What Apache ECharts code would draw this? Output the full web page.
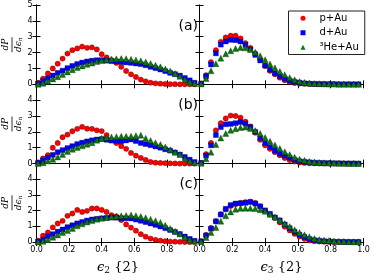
<!DOCTYPE html>
<html><head><meta charset="utf-8">
<script src="https://cdn.jsdelivr.net/npm/echarts@6/dist/echarts.min.js"></script>
<style>html,body{margin:0;padding:0;background:#fff}#c{width:374px;height:276px}</style>
</head><body><div id="c"></div>
<script>
// bin centres (x values) shared by all panels
const xBins = [0.01,0.04,0.07,0.10,0.13,0.16,0.19,0.22,0.25,0.28,0.31,0.34,0.37,0.40,0.43,0.46,0.49,0.52,0.55,0.58,0.61,0.64,0.67,0.70,0.73,0.76,0.79,0.82,0.85,0.88,0.91,0.94,0.97];

const seriesNames = ['p+Au', 'd+Au', '\u00b3He+Au'];
const panelLabels = ['(a)', '(b)', '(c)'];
const yTicks = [0, 1, 2, 3, 4, 5];
const xTicks = [0.0, 0.2, 0.4, 0.6, 0.8, 1.0];

// row (a)
const pAu_e2_a = [0.1,0.36,0.68,1.0,1.3,1.62,1.94,2.15,2.26,2.38,2.3,2.33,2.2,1.9,1.7,1.52,1.35,1.1,0.84,0.63,0.46,0.3,0.19,0.1,0.06,0.04,0.02,0.01,0.01,0,0,0,0];
const dAu_e2_a = [0.05,0.2,0.38,0.55,0.72,0.86,1.02,1.16,1.28,1.37,1.44,1.49,1.52,1.52,1.49,1.46,1.44,1.41,1.38,1.35,1.31,1.27,1.2,1.1,1.02,0.93,0.83,0.72,0.64,0.55,0.4,0.25,0.1];
const heAu_e2_a = [0,0.06,0.2,0.34,0.48,0.62,0.78,0.92,1.06,1.16,1.26,1.34,1.43,1.5,1.55,1.59,1.61,1.62,1.61,1.58,1.54,1.48,1.4,1.31,1.2,1.1,0.97,0.84,0.68,0.5,0.3,0.15,0.05];
const pAu_e3_a = [0.05,0.57,1.4,2.15,2.68,2.95,3.06,3.06,2.89,2.6,2.3,1.95,1.55,1.15,0.85,0.63,0.42,0.25,0.15,0.08,0.05,0.03,0.02,0.01,0.01,0,0,0,0,0,0,0,0];
const dAu_e3_a = [0.04,0.5,1.25,1.95,2.5,2.7,2.8,2.78,2.7,2.48,2.2,1.85,1.5,1.18,0.92,0.7,0.52,0.35,0.24,0.15,0.1,0.06,0.04,0.03,0.02,0.02,0.01,0.01,0,0,0,0,0];
const heAu_e3_a = [0.02,0.36,0.85,1.3,1.65,1.92,2.12,2.25,2.32,2.3,2.2,2.02,1.8,1.55,1.28,1.04,0.8,0.6,0.42,0.28,0.18,0.12,0.08,0.05,0.04,0.03,0.02,0.02,0.01,0.01,0.01,0,0];
// row (b)
const pAu_e2_b = [0.08,0.32,0.53,1.0,1.3,1.66,1.83,2.04,2.19,2.32,2.2,2.19,2.1,2.05,1.8,1.5,1.3,1.1,0.93,0.67,0.5,0.36,0.23,0.1,0.06,0.04,0.03,0.02,0.01,0,0,0,0];
const dAu_e2_b = [0.05,0.2,0.38,0.55,0.72,0.85,0.98,1.1,1.23,1.32,1.4,1.47,1.52,1.55,1.5,1.45,1.43,1.41,1.46,1.52,1.42,1.3,1.23,1.16,1.08,1.0,0.9,0.82,0.7,0.57,0.42,0.25,0.1];
const heAu_e2_b = [0,0.06,0.16,0.27,0.42,0.58,0.76,0.9,1.02,1.12,1.22,1.32,1.48,1.6,1.64,1.67,1.7,1.73,1.72,1.73,1.76,1.79,1.6,1.45,1.32,1.2,1.05,0.88,0.72,0.57,0.3,0.15,0.06];
const pAu_e3_b = [0.05,0.6,1.3,2.1,2.55,2.85,3.03,3.0,2.9,2.65,2.35,1.95,1.5,1.15,0.93,0.72,0.52,0.35,0.22,0.13,0.07,0.04,0.02,0.01,0,0,0,0,0,0,0,0,0];
const dAu_e3_b = [0.04,0.5,1.15,1.8,2.3,2.48,2.5,2.55,2.62,2.52,2.3,2.0,1.62,1.3,1.05,0.82,0.62,0.5,0.37,0.23,0.15,0.11,0.08,0.06,0.05,0.04,0.03,0.02,0.02,0.01,0.01,0.01,0];
const heAu_e3_b = [0.02,0.3,0.72,1.2,1.62,1.9,2.1,2.2,2.28,2.3,2.22,2.08,1.9,1.65,1.41,1.18,0.95,0.75,0.57,0.4,0.28,0.21,0.14,0.1,0.07,0.05,0.04,0.03,0.02,0.02,0.01,0.01,0];
// row (c)
const pAu_e2_c = [0.08,0.4,0.61,0.93,1.18,1.35,1.67,1.82,2.05,1.92,1.99,2.14,2.14,2.05,1.92,1.71,1.63,1.4,1.12,0.92,0.72,0.5,0.34,0.22,0.14,0.09,0.05,0.03,0.02,0.01,0,0,0];
const dAu_e2_c = [0.03,0.15,0.36,0.5,0.66,0.8,0.95,1.07,1.19,1.28,1.37,1.44,1.48,1.51,1.54,1.56,1.55,1.52,1.51,1.5,1.43,1.35,1.27,1.18,1.09,0.99,0.88,0.76,0.64,0.51,0.35,0.2,0.08];
const heAu_e2_c = [0,0.04,0.15,0.3,0.45,0.6,0.73,0.87,1.03,1.16,1.28,1.37,1.45,1.52,1.57,1.61,1.64,1.67,1.7,1.73,1.68,1.63,1.55,1.46,1.36,1.25,1.07,0.87,0.69,0.51,0.3,0.14,0.05];
const pAu_e3_c = [0.05,0.45,0.9,1.33,1.78,2.08,2.3,2.42,2.5,2.55,2.58,2.5,2.28,2.0,1.75,1.53,1.25,0.98,0.74,0.52,0.35,0.2,0.1,0.05,0.03,0.02,0.01,0,0,0,0,0,0];
const dAu_e3_c = [0.04,0.42,0.85,1.32,1.75,2.12,2.36,2.46,2.47,2.5,2.55,2.45,2.28,2.02,1.8,1.57,1.38,1.12,0.88,0.65,0.46,0.32,0.19,0.12,0.08,0.05,0.03,0.02,0.01,0.01,0,0,0];
const heAu_e3_c = [0.02,0.28,0.6,0.93,1.33,1.67,1.92,2.09,2.15,2.16,2.16,2.14,2.06,1.96,1.78,1.6,1.4,1.18,0.99,0.78,0.6,0.46,0.34,0.22,0.16,0.12,0.09,0.07,0.05,0.03,0.02,0.01,0.01];

const panels = [
  [[pAu_e2_a, dAu_e2_a, heAu_e2_a], [pAu_e3_a, dAu_e3_a, heAu_e3_a]],
  [[pAu_e2_b, dAu_e2_b, heAu_e2_b], [pAu_e3_b, dAu_e3_b, heAu_e3_b]],
  [[pAu_e2_c, dAu_e2_c, heAu_e2_c], [pAu_e3_c, dAu_e3_c, heAu_e3_c]]
];

const colors = ['#ff0000', '#0000ff', '#0a7a0a'];
const symbols = ['circle', 'rect', 'triangle'];
const symSizes = [5.3, 5, 6];

const rowTops = [5, 84.3, 163.7];
const rowH = 79.3;
const cols = [{left: 35, width: 164.5}, {left: 199.5, width: 164}];
const FONT = 'DejaVu Sans';

const fracName = '{n|dP}\n{l| }\n{n|d\u03f5}{s|n}';
const fracRich = {
  n: {fontFamily: 'DejaVu Serif', fontStyle: 'italic', fontSize: 9, lineHeight: 10, color: '#000'},
  l: {width: 15, height: 0.8, lineHeight: 3, fontSize: 1, backgroundColor: '#000'},
  s: {fontFamily: 'DejaVu Serif', fontStyle: 'italic', fontSize: 6, verticalAlign: 'bottom', lineHeight: 10, color: '#000'}
};
const xNames = ['{e|\u03f5}{s|2} {2}', '{e|\u03f5}{s|3} {2}'];
const xNameStyle = {
  fontFamily: 'DejaVu Serif', fontSize: 13, color: '#000',
  rich: {
    e: {fontFamily: 'DejaVu Serif', fontStyle: 'italic', fontSize: 13, color: '#000'},
    s: {fontFamily: 'DejaVu Serif', fontSize: 9, verticalAlign: 'bottom', padding: [6, 0, 0, 0], color: '#000'}
  }
};

const axLine = {show: true, lineStyle: {color: '#000', width: 1}};
const axTick = {show: true, inside: true, length: 4, lineStyle: {color: '#000', width: 1}};

const grids = [], xAxes = [], yAxes = [], series = [];
for (let r = 0; r < 3; r++) {
  for (let c = 0; c < 2; c++) {
    const gi = r * 2 + c;
    grids.push({left: cols[c].left, width: cols[c].width, top: rowTops[r], height: rowH, show: false});
    xAxes.push({
      gridIndex: gi, type: 'value', min: xTicks[0], max: xTicks[xTicks.length - 1], interval: 0.2, position: 'bottom',
      axisLine: axLine, axisTick: axTick, splitLine: {show: false},
      axisLabel: {show: r === 2, fontSize: 8, fontFamily: FONT, color: '#000', margin: 4, showMaxLabel: c === 1,
        formatter: v => v.toFixed(1)},
      name: r === 2 ? xNames[c] : '', nameLocation: 'middle', nameGap: 18, nameTextStyle: xNameStyle
    });
    xAxes.push({
      gridIndex: gi, type: 'value', min: 0, max: 1, interval: 0.2, position: 'top',
      axisLine: axLine, axisTick: axTick, splitLine: {show: false}, axisLabel: {show: false}
    });
    yAxes.push({
      gridIndex: gi, type: 'value', min: yTicks[0], max: yTicks[yTicks.length - 1], interval: 1, position: 'left',
      axisLine: axLine, axisTick: axTick, splitLine: {show: false},
      axisLabel: {show: c === 0, fontSize: 8, fontFamily: FONT, color: '#000', margin: 4, showMaxLabel: r === 0},
      name: c === 0 ? fracName : '', nameLocation: 'middle', nameGap: 12, nameRotate: 90,
      nameTextStyle: {rich: fracRich, align: 'center'}
    });
    yAxes.push({
      gridIndex: gi, type: 'value', min: 0, max: 5, interval: 1, position: 'right',
      axisLine: axLine, axisTick: axTick, splitLine: {show: false}, axisLabel: {show: false}
    });
    for (let s = 0; s < 3; s++) {
      series.push({
        name: seriesNames[s], type: 'scatter', xAxisIndex: gi * 2, yAxisIndex: gi * 2,
        symbol: symbols[s], symbolSize: symSizes[s], z: 2 + s,
        itemStyle: {color: colors[s], borderColor: 'rgba(0,0,0,0.55)', borderWidth: 0.5, opacity: 1},
        data: xBins.map((x, i) => [x, panels[r][c][s][i]])
      });
    }
  }
}

const chart = echarts.init(document.getElementById('c'), null, {renderer: 'canvas'});
chart.setOption({
  animation: false,
  backgroundColor: '#fff',
  textStyle: {fontFamily: FONT},
  grid: grids, xAxis: xAxes, yAxis: yAxes, series: series,
  legend: {
    data: seriesNames.map((n, i) => ({name: n, icon: symbols[i]})),
    orient: 'vertical', left: 288.5, top: 11, padding: [0, 6, 0, 12], itemGap: 0,
    itemWidth: 5, itemHeight: 5, borderColor: '#222', borderWidth: 1, backgroundColor: '#fff',
    selectedMode: false,
    itemStyle: {borderWidth: 0},
    textStyle: {fontSize: 10, fontFamily: FONT, color: '#000', lineHeight: 14.5, padding: [0, 0, 0, 9]}
  },
  graphic: panelLabels.map((t, r) => ({
    type: 'text', right: 176, top: rowTops[r] + 14, z: 10,
    style: {text: t, font: '14px "DejaVu Sans"', fill: '#000'}
  }))
});
</script></body></html>
